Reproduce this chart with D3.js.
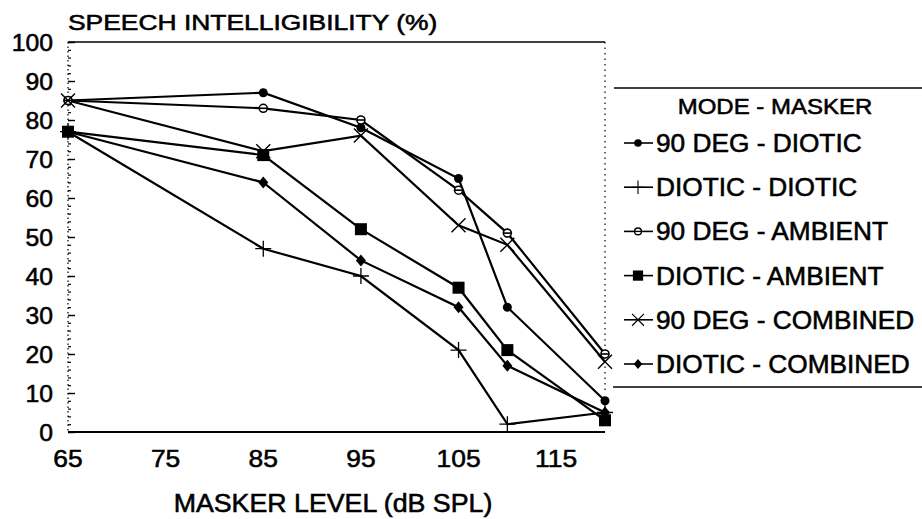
<!DOCTYPE html>
<meta charset="utf-8">
<style>
body { margin: 0; background: #fff; }
text { font-family: "Liberation Sans", Arial, sans-serif; fill: #000; stroke: #000; stroke-width: 0.55px; }
</style>
<body>
<script src="https://d3js.org/d3.v7.min.js"></script>
<script>
var width = 922, height = 519;

// data
var levels = [65, 85, 95, 105, 110, 120];
var xTicks = [65, 75, 85, 95, 105, 115];
var yTicks = [0, 10, 20, 30, 40, 50, 60, 70, 80, 90, 100];
var seriesNames = ['90 DEG - DIOTIC', 'DIOTIC - DIOTIC', '90 DEG - AMBIENT',
                   'DIOTIC - AMBIENT', '90 DEG - COMBINED', 'DIOTIC - COMBINED'];
var seriesMarkers = ['dot', 'plus', 'ring', 'square', 'cross', 'diamond'];
var deg90Diotic     = [85, 87, 78, 65, 32, 8];
var dioticDiotic    = [77, 47, 40, 21, 2, 5];
var deg90Ambient    = [85, 83, 80, 62, 51, 20];
var dioticAmbient   = [77, 71, 52, 37, 21, 3];
var deg90Combined   = [85, 72, 76, 53, 48, 18];
var dioticCombined  = [77, 64, 44, 32, 17, 5];
var allSeries = [deg90Diotic, dioticDiotic, deg90Ambient, dioticAmbient, deg90Combined, dioticCombined];

var x = d3.scaleLinear().domain([65, 120]).range([68, 605]);
var y = d3.scaleLinear().domain([0, 100]).range([432, 42]);

var svg = d3.select('body').append('svg')
    .attr('width', width)
    .attr('height', height);

// widen text a little, the scan is stretched sideways
function stretch(sel, k) {
    sel.each(function() {
        var w = this.getComputedTextLength();
        d3.select(this).attr('textLength', w * k).attr('lengthAdjust', 'spacingAndGlyphs');
    });
}

function drawMarker(g, type, cx, cy, s) {
    s = s || 1;
    var m = g.append('g').attr('transform', 'translate(' + cx + ',' + cy + ') scale(' + s + ')');
    if (type == 'dot') {
        m.append('circle').attr('r', 4.5).attr('fill', '#000');
    } else if (type == 'plus') {
        m.append('path').attr('d', 'M-8,0H8M0,-8V8').attr('stroke', '#000').attr('stroke-width', 1.3);
    } else if (type == 'ring') {
        m.append('circle').attr('r', 4).attr('fill', '#fff').attr('stroke', '#000').attr('stroke-width', 1.6);
        m.append('path').attr('d', 'M-4,0H4').attr('stroke', '#000').attr('stroke-width', 1.6);
    } else if (type == 'square') {
        m.append('rect').attr('x', -6).attr('y', -6).attr('width', 12).attr('height', 12).attr('fill', '#000');
    } else if (type == 'cross') {
        m.append('path').attr('d', 'M-7,-7L7,7M-7,7L7,-7').attr('stroke', '#000').attr('stroke-width', 1.4);
    } else if (type == 'diamond') {
        m.append('path').attr('d', 'M0,-6L5,0L0,6L-5,0Z').attr('fill', '#000');
    }
}

// frame: top line, dotted right side
svg.append('line')
    .attr('x1', x(65)).attr('x2', x(120))
    .attr('y1', y(100)).attr('y2', y(100))
    .attr('stroke', '#000').attr('stroke-width', 1.6);
svg.append('line')
    .attr('x1', x(120)).attr('x2', x(120))
    .attr('y1', y(100)).attr('y2', y(10))
    .attr('stroke', '#000').attr('stroke-width', 1.2)
    .attr('stroke-dasharray', '1.5,4');

// y axis: dotted line with minor and major ticks
svg.append('line')
    .attr('x1', x(65)).attr('x2', x(65))
    .attr('y1', y(100)).attr('y2', y(0))
    .attr('stroke', '#000').attr('stroke-width', 1.2)
    .attr('stroke-dasharray', '1.5,3');
svg.append('g')
    .attr('transform', 'translate(' + x(65) + ',0)')
    .call(d3.axisRight(y).tickValues(d3.range(0, 101, 2)).tickSize(3).tickFormat(''))
    .call(function(g) { g.select('.domain').remove(); g.selectAll('line').attr('stroke-width', 1.2); });
svg.append('g')
    .attr('transform', 'translate(' + x(65) + ',0)')
    .call(d3.axisRight(y).tickValues(yTicks).tickSize(7).tickFormat(''))
    .call(function(g) { g.select('.domain').remove(); g.selectAll('line').attr('stroke-width', 1.4); });

svg.selectAll('.ylab')
    .data(yTicks)
    .enter().append('text')
    .attr('class', 'ylab')
    .attr('x', 53)
    .attr('y', function(d) { return y(d); })
    .attr('dy', '0.36em')
    .attr('text-anchor', 'end')
    .style('font-size', '24px')
    .text(function(d) { return d; })
    .call(stretch, 1.03);

// x axis
svg.append('line')
    .attr('x1', x(65)).attr('x2', x(120))
    .attr('y1', y(0)).attr('y2', y(0))
    .attr('stroke', '#000').attr('stroke-width', 1.8);

svg.selectAll('.xlab')
    .data(xTicks)
    .enter().append('text')
    .attr('class', 'xlab')
    .attr('x', function(d) { return x(d); })
    .attr('y', 467)
    .attr('text-anchor', 'middle')
    .style('font-size', '24px')
    .text(function(d) { return d; })
    .call(stretch, 1.1);

svg.append('text')
    .attr('x', 68).attr('y', 30)
    .style('font-size', '22px')
    .text('SPEECH INTELLIGIBILITY (%)')
    .call(stretch, 1.2);

svg.append('text')
    .attr('x', 333).attr('y', 512)
    .attr('text-anchor', 'middle')
    .style('font-size', '25px')
    .text('MASKER LEVEL (dB SPL)')
    .call(stretch, 1.07);

// series
var line = d3.line()
    .x(function(d, i) { return x(levels[i]); })
    .y(function(d) { return y(d); });

allSeries.forEach(function(s, k) {
    svg.append('path')
        .datum(s)
        .attr('d', line)
        .attr('fill', 'none')
        .attr('stroke', '#000')
        .attr('stroke-width', 2.2);
});
allSeries.forEach(function(s, k) {
    var g = svg.append('g');
    s.forEach(function(v, i) {
        drawMarker(g, seriesMarkers[k], x(levels[i]), y(v));
    });
});

// legend
svg.append('line').attr('x1', 614).attr('x2', 922).attr('y1', 88).attr('y2', 88)
    .attr('stroke', '#000').attr('stroke-width', 1.6);
svg.append('line').attr('x1', 613).attr('x2', 922).attr('y1', 387).attr('y2', 387)
    .attr('stroke', '#000').attr('stroke-width', 1.6);

svg.append('text')
    .attr('x', 775).attr('y', 106)
    .attr('dy', '0.36em')
    .attr('text-anchor', 'middle')
    .style('font-size', '22px')
    .text('MODE - MASKER')
    .call(stretch, 1.09);

var rowY = d3.scalePoint().domain(seriesNames).range([143, 364]);

seriesNames.forEach(function(name, k) {
    var ry = rowY(name);
    svg.append('line')
        .attr('x1', 624).attr('x2', 653)
        .attr('y1', ry).attr('y2', ry)
        .attr('stroke', '#000').attr('stroke-width', 1.6);
    var g = svg.append('g');
    drawMarker(g, seriesMarkers[k], 638, ry, 0.85);
    svg.append('text')
        .attr('x', 656).attr('y', ry)
        .attr('dy', '0.36em')
        .style('font-size', '25px')
        .text(name)
        .call(stretch, 1.05);
});
</script>
</body>
